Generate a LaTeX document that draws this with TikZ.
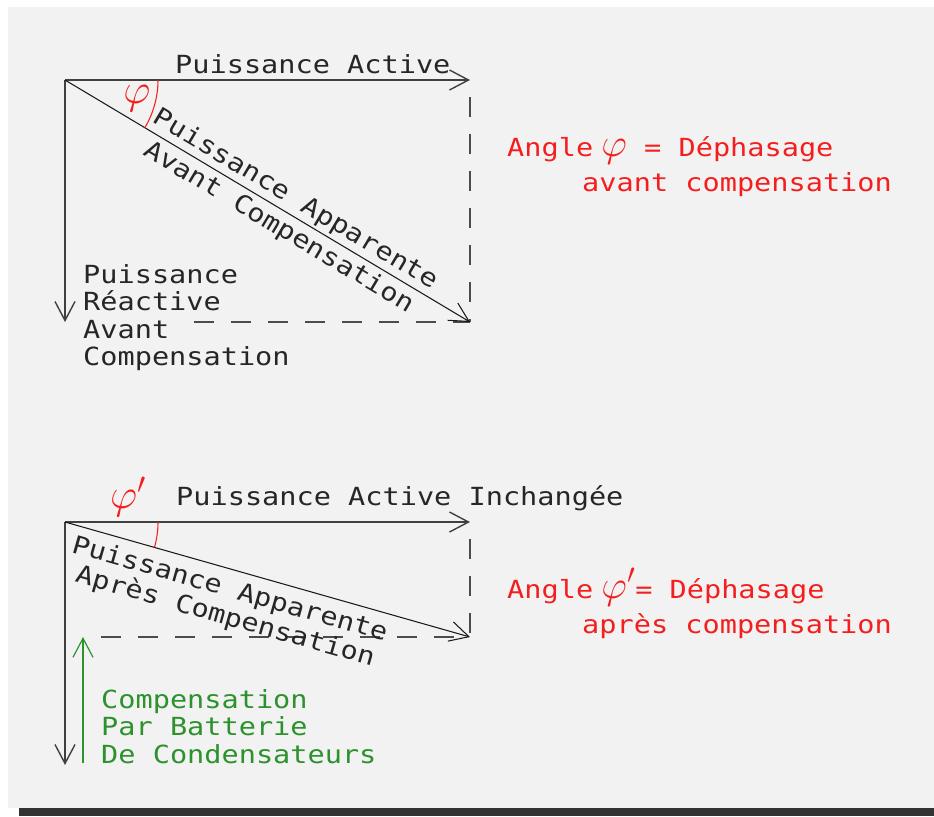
\RequirePackage{fix-cm}
\documentclass[tikz,border=0pt]{standalone}
\usepackage{fontspec}
\newfontfamily\cadfont{DejaVu Sans Mono}[FakeStretch=1.145]
\usetikzlibrary{arrows.meta,angles}
\definecolor{sheet}{RGB}{242,242,242}
\definecolor{barcol}{RGB}{51,51,51}
\definecolor{cadred}{RGB}{245,30,30}
\definecolor{cadgreen}{RGB}{45,145,45}
\newcommand\bigphi[1]{{\fontsize{34}{34}\selectfont$#1$}}

\begin{document}
\begin{tikzpicture}[x=0.3mm,y=-0.3mm,>={Straight Barb[length=5.7mm,width=6mm]},
  txt/.style={font=\cadfont\fontsize{21.3}{23.5}\selectfont,inner sep=0pt,text=black!85},
  axis/.style={->,black!75,line width=1.2pt},
  vec/.style={->,black!90,line width=0.9pt},
  proj/.style={black!70,line width=1.1pt,dash pattern=on 6mm off 5.1mm,dash phase=6mm},
  note/.style={txt,text=cadred,anchor=base west},
  philab/.style={text=cadred,inner sep=0pt,font=\fontsize{36}{36}\selectfont}]
% sheet and bottom bar
\fill[white] (0,0) rectangle (934,816);
\fill[sheet] (8,7) rectangle (934,808);
\fill[barcol] (19,808) rectangle (934,816);
\useasboundingbox (0,0) rectangle (934,816);

% --- before compensation ---
\coordinate (O1) at (65,80);
\coordinate (A1) at (470,80);
\coordinate (R1) at (65,322);
\coordinate (S1) at (470,322);
\coordinate (Q1) at (194,322);
\draw[proj] (A1) -- (S1);
\draw[proj,dash phase=0pt] (Q1) -- (S1);
\draw[axis] (O1) -- (A1);
\draw[axis] (O1) -- (R1);
\draw[vec] (O1) -- (S1)
  node[txt,pos=0.55,sloped,above=2.4pt] (app1) {Puissance Apparente}
  node[txt,pos=0.55,sloped,below=4pt] (avt1) {Avant Compensation};
\pic[draw=cadred,line width=0.9pt,angle radius=27.9mm] {angle=S1--O1--A1};
\node[philab] (phi1) at (137,99) {$\varphi$};
\node[txt,anchor=base west] (act1) at (175,73) {Puissance Active};
\node[txt,align=left,anchor=north west] (reac1) at (83,264)
  {Puissance\\Réactive\\Avant\\Compensation};
\node[note] (ang1) at (507,156) {Angle\kern7pt\bigphi{\varphi} = Déphasage};
\node[note] (ang1b) at (582,191) {avant compensation};

% --- after compensation ---
\coordinate (O2) at (65,522);
\coordinate (A2) at (470,522);
\coordinate (R2) at (65,765);
\coordinate (S2) at (470,637);
\coordinate (Q2) at (101,637);
\coordinate (G0) at (83,763);
\coordinate (G1) at (83,637);
\draw[proj] (A2) -- (S2);
\draw[proj,dash phase=0pt] (Q2) -- (S2);
\draw[axis] (O2) -- (A2);
\draw[axis] (O2) -- (R2);
\draw[vec] (O2) -- (S2)
  node[txt,pos=0.031,sloped,anchor=north west,align=left,inner ysep=6.8pt] (app2)
  {Puissance Apparente\\\hspace*{10pt}Après Compensation};
\pic[draw=cadred,line width=0.9pt,angle radius=27.9mm] {angle=S2--O2--A2};
\node[philab] (phi2) at (128,497) {$\varphi'$};
\node[txt,anchor=base west] (act2) at (176,505) {Puissance Active Inchangée};
\draw[->,cadgreen,line width=1pt] (G0) -- (G1);
\node[txt,text=cadgreen,align=left,anchor=north west] (bat) at (101,689)
  {Compensation\\Par Batterie\\De Condensateurs};
\node[note] (ang2) at (507,598) {Angle\kern7pt\bigphi{\varphi'}= Déphasage};
\node[note] (ang2b) at (582,633) {après compensation};
\end{tikzpicture}
\end{document}
